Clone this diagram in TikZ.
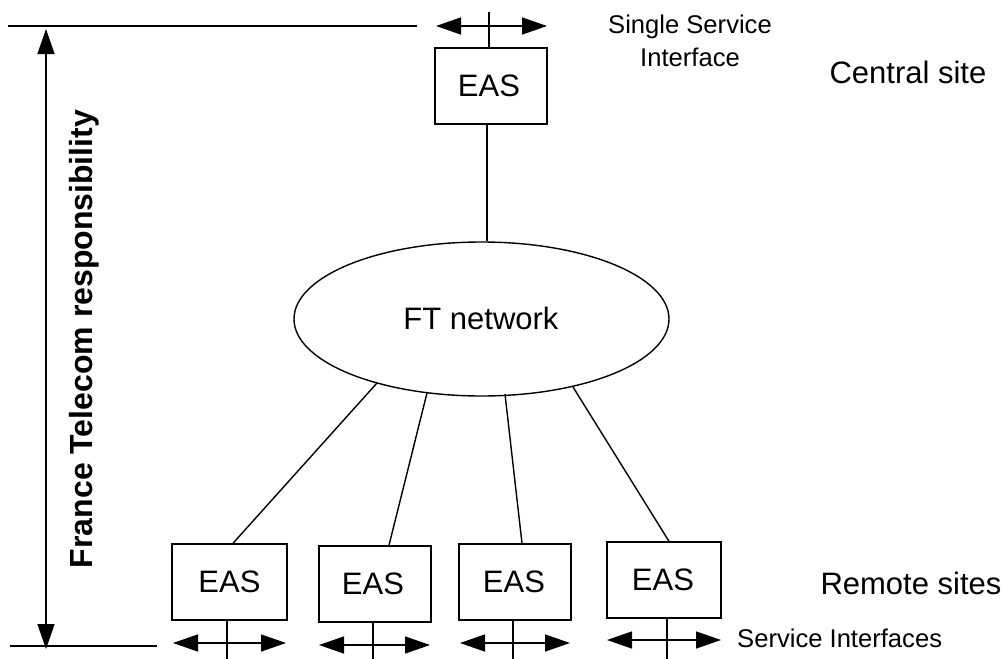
\documentclass[tikz,border=0pt]{standalone}
\usepackage{fontspec}
\setmainfont{Liberation Sans}
\usetikzlibrary{shapes.geometric,arrows.meta}
\begin{document}
\begin{tikzpicture}[x=1pt,y=-1pt,
 box/.style={draw,line width=1.4pt,inner sep=0pt,font=\fontsize{31}{36}\selectfont},
 lbl/.style={inner sep=0pt,font=\fontsize{31}{36}\selectfont},
 small/.style={inner sep=0pt,font=\fontsize{25.6}{33}\selectfont,align=center},
 ln/.style={line width=1.4pt},
 arr/.style={line width=1.4pt,{Triangle[length=25pt,width=17pt]}-{Triangle[length=25pt,width=17pt]}}]
\useasboundingbox (0,0) rectangle (1005,659);
\node[box,minimum width=112,minimum height=76] (c) at (491,86) {\hspace*{-4pt}EAS};
\node[draw,line width=1.4pt,ellipse,minimum width=375,minimum height=154,inner sep=0pt] (ft) at (481.5,319) {};
\node[lbl] (ftl) at (481,318) {FT network};
\node[box,minimum width=115,minimum height=76] (r1) at (229.5,582) {EAS};
\node[box,minimum width=112,minimum height=76] (r2) at (375,584) {\hspace*{-4pt}EAS};
\node[box,minimum width=112,minimum height=76] (r3) at (515,582) {\hspace*{-2pt}EAS};
\node[box,minimum width=114,minimum height=76] (r4) at (664,580) {\hspace*{-2pt}EAS};
\draw[ln] ([xshift=-4pt]c.south) -- ([xshift=5.5pt]ft.north);
\coordinate (a1) at (377,383); \coordinate (a2) at (427,393);
\coordinate (a3) at (505,394); \coordinate (a4) at (573,387);
\draw[ln] (a1) -- ([xshift=3.5pt]r1.north);
\draw[ln] (a2) -- ([xshift=14pt]r2.north);
\draw[ln] (a3) -- ([xshift=7pt]r3.north);
\draw[ln] (a4) -- ([xshift=5pt]r4.north);
\coordinate (t0) at (8,26); \coordinate (t1) at (417,26);
\draw[ln] (t0) -- (t1);
\coordinate (b0) at (10,646); \coordinate (b1) at (157,646);
\draw[ln] (b0) -- (b1);
\coordinate (v0) at (46,29); \coordinate (v1) at (46,649);
\draw[arr] (v0) -- (v1);
\node[rotate=90,inner sep=0pt,font=\bfseries\fontsize{32}{36}\selectfont] (fr) at (84,339) {France Telecom responsibility};
\coordinate (ca) at (436,26); \coordinate (cb) at (547,26);
\draw[arr] (ca) -- (cb);
\coordinate (cs) at (489,12);
\draw[ln] (cs) -- (cs |- c.north);
\foreach \n/\x/\yy/\l/\r/\e in {1/227/643/173/286/659,2/373/645/319/430/659,3/513/643/460/570/659,4/667/640/607/721/659}{
 \coordinate (la\n) at (\l,\yy); \coordinate (ra\n) at (\r,\yy);
 \draw[arr] (la\n) -- (ra\n);
 \coordinate (e\n) at (\x,\e);
 \draw[ln] (e\n) -- (e\n |- r\n.south);
}
\node[small] (ssi) at (690,41) {Single Service\\Interface};
\node[lbl] (cen) at (908,72) {Central site};
\node[lbl] (rem) at (911,583) {Remote sites};
\node[small,anchor=west] (si) at (737,638) {Service Interfaces};
\end{tikzpicture}
\end{document}
